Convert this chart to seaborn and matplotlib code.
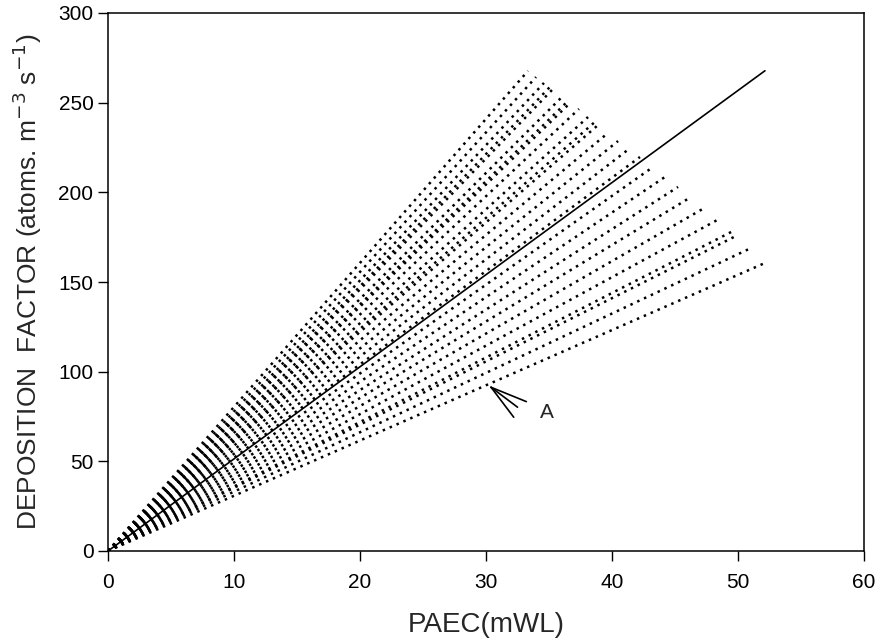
import numpy as np
import pandas as pd
import seaborn as sns
import matplotlib
matplotlib.use("Agg")
import matplotlib.pyplot as plt

# -----------------------------
# Data
# -----------------------------
# end points of the dotted lines (each starts at the origin)
END_PAEC = [33.33, 33.97, 34.60, 35.05, 35.24, 36.03, 36.50, 36.67, 37.38, 38.10,
            38.60, 38.89, 39.68, 40.48, 41.35, 42.22, 43.25, 44.21, 45.24, 46.27,
            47.46, 48.49, 49.60, 49.68, 50.87, 52.14]
END_DEP = [267.7, 264.3, 261.0, 258.6, 257.1, 253.2, 250.9, 249.8, 246.5, 242.0,
           239.0, 237.5, 233.1, 228.6, 224.2, 219.7, 214.1, 208.6, 203.0, 197.4,
           191.8, 185.1, 178.4, 175.1, 168.4, 160.6]

# solid reference line
FIT_PAEC = [0.0, 52.14]
FIT_DEP = [0.0, 267.8]

# arrow marking curve "A"
ARROW_TIP = (30.4, 91.3)
ARROW_TAILS = [(33.2, 83.3), (32.5, 80.2), (32.2, 74.6)]
LABEL_A = (34.8, 77.5)

X_TICKS = [0, 10, 20, 30, 40, 50, 60]
Y_TICKS = [0, 50, 100, 150, 200, 250, 300]

# -----------------------------
# Build long-form table
# -----------------------------
rows = []
for i, (ex, ey) in enumerate(zip(END_PAEC, END_DEP)):
    rows.append((i, 0.0, 0.0))
    rows.append((i, ex, ey))
lines = pd.DataFrame(rows, columns=["line", "paec", "dep"])
fit = pd.DataFrame({"paec": FIT_PAEC, "dep": FIT_DEP})

# -----------------------------
# Plot
# -----------------------------
sns.set_style("ticks")
plt.rcParams["font.family"] = ["Liberation Sans", "DejaVu Sans"]

fig = plt.figure(figsize=(8.86, 6.44), dpi=100)
ax = fig.add_axes([108 / 886, 1 - 551 / 644, (864 - 108) / 886, (551 - 13) / 644])

sns.lineplot(data=lines, x="paec", y="dep", units="line", estimator=None,
             color="black", lw=1.8, linestyle=(0, (1, 2.0)), legend=False, ax=ax)
sns.lineplot(data=fit, x="paec", y="dep", color="black", lw=1.2, ax=ax)

for tx, ty in ARROW_TAILS:
    ax.plot([ARROW_TIP[0], tx], [ARROW_TIP[1], ty], color="black", lw=1.2)
ax.text(LABEL_A[0], LABEL_A[1], "A", fontsize=15, ha="center", va="center")

ax.set_xlim(0, 60)
ax.set_ylim(0, 300)
ax.set_xticks(X_TICKS)
ax.set_yticks(Y_TICKS)
ax.tick_params(labelsize=15, length=7, width=1, direction="out", colors="black")
ax.tick_params(axis="x", pad=9)
ax.set_xlabel("PAEC(mWL)", fontsize=20, labelpad=14)
ax.set_ylabel(r"DEPOSITION  FACTOR (atoms. m$^{-3}$ s$^{-1}$)", fontsize=19, labelpad=10)
for s in ax.spines.values():
    s.set_color("black")
    s.set_linewidth(1.1)

plt.savefig("out.png", dpi=100)
